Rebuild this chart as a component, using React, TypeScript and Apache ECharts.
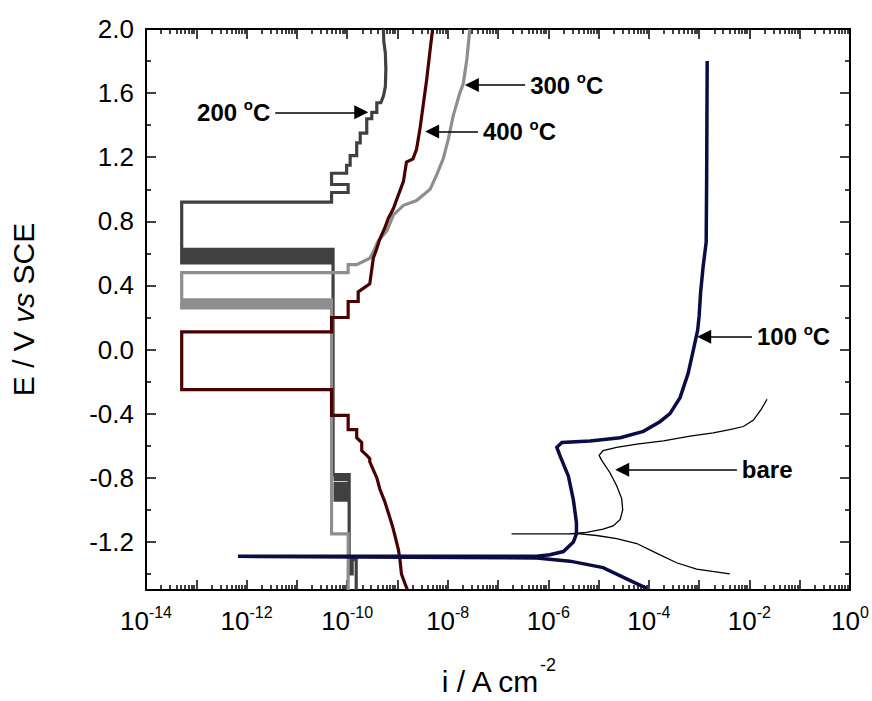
import React, { useEffect, useRef } from "react";
import * as echarts from "echarts";

// x values are log10(i / A cm^-2), y values are E / V vs SCE
const xDecades = [-14, -13, -12, -11, -10, -9, -8, -7, -6, -5, -4, -3, -2, -1, 0];
const xLabelDecades = [-14, -12, -10, -8, -6, -4, -2, 0];
const xMinorMantissas = [2, 3, 4, 5, 6, 7, 8, 9];
const yLabelValues = [-1.2, -0.8, -0.4, 0.0, 0.4, 0.8, 1.2, 1.6, 2.0];
const yMinorValues = [-1.4, -1.0, -0.6, -0.2, 0.2, 0.6, 1.0, 1.4, 1.8];

const bare: [number, number][] = [
  [-2.39, -1.40], [-3.05, -1.37], [-3.45, -1.33], [-3.85, -1.27], [-4.24, -1.21],
  [-4.64, -1.18], [-5.04, -1.16], [-5.37, -1.15], [-6.73, -1.15], [-5.60, -1.15],
  [-5.24, -1.14], [-4.91, -1.12], [-4.71, -1.10], [-4.57, -1.06], [-4.52, -1.00],
  [-4.54, -0.93], [-4.64, -0.85], [-4.77, -0.77], [-4.94, -0.69], [-4.99, -0.66],
  [-4.91, -0.63], [-4.64, -0.61], [-4.24, -0.59], [-3.71, -0.57], [-3.18, -0.54],
  [-2.72, -0.52], [-2.39, -0.50], [-2.12, -0.48], [-1.92, -0.44], [-1.76, -0.37],
  [-1.65, -0.31],
];

const c100: [number, number][] = [
  [-4.04, -1.49], [-4.38, -1.44], [-4.91, -1.36], [-5.57, -1.32], [-6.23, -1.30],
  [-12.17, -1.29], [-6.23, -1.29], [-5.97, -1.28], [-5.70, -1.26], [-5.50, -1.20],
  [-5.44, -1.15], [-5.44, -1.08], [-5.50, -0.94], [-5.60, -0.79], [-5.77, -0.66],
  [-5.83, -0.61], [-5.73, -0.58], [-5.17, -0.57], [-4.57, -0.55], [-4.11, -0.51],
  [-3.78, -0.45], [-3.58, -0.40], [-3.38, -0.30], [-3.22, -0.15], [-3.12, -0.01],
  [-3.03, 0.12], [-3.00, 0.21], [-2.97, 0.36], [-2.92, 0.52], [-2.86, 0.67],
  [-2.85, 1.09], [-2.84, 1.80],
];

const c200: [number, number][] = [
  [-9.82, -1.50], [-9.82, -1.31], [-9.90, -1.31], [-9.90, -1.40], [-9.96, -1.40],
  [-9.96, -0.94], [-10.24, -0.94], [-10.24, -0.925], [-9.96, -0.925], [-9.96, -0.91],
  [-10.24, -0.91], [-10.24, -0.895], [-9.96, -0.895], [-9.96, -0.88], [-10.24, -0.88],
  [-10.24, -0.865], [-9.96, -0.865], [-9.96, -0.85], [-10.24, -0.85], [-10.24, -0.835],
  [-9.96, -0.835], [-9.96, -0.81], [-10.24, -0.81], [-10.24, -0.795], [-9.96, -0.795],
  [-9.96, -0.78], [-10.28, -0.78], [-10.28, 0.54], [-13.29, 0.54], [-13.29, 0.555],
  [-10.28, 0.555], [-10.28, 0.57], [-13.29, 0.57], [-13.29, 0.585], [-10.28, 0.585],
  [-10.28, 0.60], [-13.29, 0.60], [-13.29, 0.615], [-10.28, 0.615], [-10.28, 0.625],
  [-13.29, 0.625], [-13.29, 0.92], [-10.31, 0.92],
  [-10.31, 0.98], [-9.98, 0.98], [-9.98, 1.03], [-10.31, 1.03], [-10.31, 1.10],
  [-10.01, 1.10], [-10.01, 1.15], [-9.94, 1.15], [-9.94, 1.21], [-9.81, 1.21],
  [-9.81, 1.29], [-9.74, 1.29], [-9.74, 1.35], [-9.61, 1.35], [-9.61, 1.44],
  [-9.51, 1.44], [-9.51, 1.48], [-9.41, 1.48], [-9.41, 1.54], [-9.33, 1.54],
  [-9.28, 1.58], [-9.24, 1.64], [-9.23, 1.75], [-9.24, 1.85], [-9.27, 1.92],
  [-9.28, 2.0],
];

const c300: [number, number][] = [
  [-9.98, -1.50], [-9.98, -1.15], [-10.31, -1.15], [-10.31, 0.26], [-13.29, 0.26],
  [-13.29, 0.275], [-10.31, 0.275], [-10.31, 0.29], [-13.29, 0.29], [-13.29, 0.305],
  [-10.31, 0.305], [-10.31, 0.31], [-13.29, 0.31], [-13.29, 0.48],
  [-9.98, 0.48], [-9.98, 0.53], [-9.81, 0.53], [-9.55, 0.57], [-9.48, 0.61],
  [-9.38, 0.68], [-9.21, 0.74], [-9.08, 0.84], [-8.88, 0.90], [-8.62, 0.93],
  [-8.35, 1.00], [-8.22, 1.09], [-8.09, 1.19], [-7.99, 1.31], [-7.89, 1.46],
  [-7.76, 1.60], [-7.69, 1.66], [-7.62, 1.81], [-7.56, 2.0],
];

const c400: [number, number][] = [
  [-8.80, -1.50], [-8.85, -1.46], [-8.92, -1.40], [-8.95, -1.31], [-8.98, -1.25],
  [-9.05, -1.16], [-9.10, -1.10], [-9.18, -1.02], [-9.25, -0.95], [-9.35, -0.87],
  [-9.41, -0.80], [-9.48, -0.75], [-9.55, -0.70], [-9.55, -0.68], [-9.61, -0.66],
  [-9.71, -0.63], [-9.71, -0.58], [-9.81, -0.55], [-9.81, -0.50], [-9.98, -0.50],
  [-9.98, -0.41], [-10.31, -0.41], [-10.31, -0.25], [-13.29, -0.25], [-13.29, 0.11],
  [-10.31, 0.11], [-10.31, 0.20], [-9.98, 0.20], [-9.98, 0.30], [-9.78, 0.30],
  [-9.78, 0.36], [-9.55, 0.41], [-9.48, 0.57], [-9.41, 0.63], [-9.35, 0.69],
  [-9.25, 0.76], [-9.18, 0.82], [-9.08, 0.88], [-9.01, 0.94], [-8.88, 1.05],
  [-8.82, 1.17], [-8.69, 1.19], [-8.62, 1.25], [-8.55, 1.38], [-8.49, 1.52],
  [-8.42, 1.68], [-8.35, 1.87], [-8.30, 2.0],
];

// annotation arrows: label, start and end in data coordinates
const annotations: { text: string; from: [number, number]; to: [number, number] }[] = [
  { text: "200", from: [-11.43, 1.48], to: [-9.72, 1.48] },
  { text: "300", from: [-6.46, 1.65], to: [-7.52, 1.65] },
  { text: "400", from: [-7.40, 1.36], to: [-8.31, 1.36] },
  { text: "100", from: [-1.95, 0.08], to: [-2.90, 0.08] },
  { text: "bare", from: [-2.25, -0.75], to: [-4.53, -0.75] },
];

const FONT = "'Liberation Sans', Arial, Helvetica, sans-serif";

const xMinorTicks: number[] = [];
xDecades.slice(0, -1).forEach((d) => {
  xMinorMantissas.forEach((m) => xMinorTicks.push(d + Math.log10(m)));
});

function arrowMarkLine(a: { text: string; from: [number, number]; to: [number, number] }) {
  const fmt = a.text === "bare" ? "{t|bare}" : `{t|${a.text} }{o|o}{t|C}`;
  return {
    silent: true,
    symbol: ["none", "triangle"],
    symbolSize: 14,
    lineStyle: { color: "#000", width: 1.5, type: "solid" },
    emphasis: { disabled: true },
    label: {
      show: true,
      position: "start",
      distance: 5,
      color: "#000",
      formatter: fmt,
      rich: {
        t: { fontSize: 24, fontWeight: "bold", fontFamily: FONT, color: "#000", lineHeight: 30 },
        o: { fontSize: 15, fontWeight: "bold", fontFamily: FONT, color: "#000", lineHeight: 15, verticalAlign: "top" },
      },
    },
    data: [[{ coord: a.from }, { coord: a.to }]],
  };
}

export default function App() {
  const ref = useRef<HTMLDivElement>(null);
  useEffect(() => {
    if (!ref.current) return;
    const chart = echarts.init(ref.current, undefined, { renderer: "svg" });
    const axisLine = { show: true, onZero: false, lineStyle: { color: "#000", width: 2 } };
    const noLine = { show: false, onZero: false };
    const baseX = { type: "value", min: -14, max: 0, splitLine: { show: false } };
    const baseY = { type: "value", min: -1.5, max: 2.0, splitLine: { show: false } };
    const tickStyle = { color: "#000", width: 1.5 };
    const byName = (n: string) => annotations.find((a) => a.text === n)!;

    const mkSeries = (name: string, data: [number, number][], color: string, width: number, ann: string) => ({
      name,
      type: "line",
      data,
      showSymbol: false,
      symbol: "none",
      lineStyle: { color, width, join: "miter" },
      itemStyle: { color },
      emphasis: { disabled: true },
      markLine: arrowMarkLine(byName(ann)),
    });

    chart.setOption({
      animation: false,
      backgroundColor: "#fff",
      grid: { left: 146, right: 22, top: 29, bottom: 107, containLabel: false },
      xAxis: [
        {
          ...baseX,
          position: "bottom",
          interval: 1,
          axisLine,
          axisTick: { show: true, inside: true, length: 10, lineStyle: tickStyle },
          axisLabel: {
            show: true,
            margin: 14,
            customValues: xLabelDecades,
            formatter: (v: number) => {
              const n = Math.round(v);
              if (n % 2 !== 0) return "";
              return `{b|10}{e|${n}}`;
            },
            rich: {
              b: { fontSize: 26, fontFamily: FONT, color: "#000", lineHeight: 34 },
              e: { fontSize: 16, fontFamily: FONT, color: "#000", lineHeight: 16, verticalAlign: "top" },
            },
          },
          name: "{n|i / A cm}{s|-2}",
          nameLocation: "middle",
          nameGap: 66,
          nameTextStyle: {
            rich: {
              n: { fontSize: 30, fontFamily: FONT, color: "#000", lineHeight: 50 },
              s: { fontSize: 18, fontFamily: FONT, color: "#000", lineHeight: 18, verticalAlign: "top" },
            },
          },
        },
        {
          ...baseX,
          position: "bottom",
          axisLine: noLine,
          axisLabel: { show: false },
          axisTick: { show: true, inside: true, length: 5, customValues: xMinorTicks, lineStyle: tickStyle },
        },
        {
          ...baseX,
          position: "top",
          interval: 1,
          axisLine,
          axisLabel: { show: false },
          axisTick: { show: true, inside: true, length: 10, lineStyle: tickStyle },
        },
        {
          ...baseX,
          position: "top",
          axisLine: noLine,
          axisLabel: { show: false },
          axisTick: { show: true, inside: true, length: 5, customValues: xMinorTicks, lineStyle: tickStyle },
        },
      ],
      yAxis: [
        {
          ...baseY,
          position: "left",
          axisLine,
          axisTick: { show: true, inside: true, length: 10, customValues: yLabelValues, lineStyle: tickStyle },
          axisLabel: {
            show: true,
            margin: 12,
            customValues: yLabelValues,
            fontSize: 26,
            fontFamily: FONT,
            color: "#000",
            formatter: (v: number) => v.toFixed(1),
          },
          name: "{n|E / V }{i|vs}{n| SCE}",
          nameLocation: "middle",
          nameRotate: 90,
          nameGap: 105,
          nameTextStyle: {
            rich: {
              n: { fontSize: 30, fontFamily: FONT, color: "#000", lineHeight: 36 },
              i: { fontSize: 30, fontFamily: FONT, color: "#000", lineHeight: 36, fontStyle: "italic" },
            },
          },
        },
        {
          ...baseY,
          position: "left",
          axisLine: noLine,
          axisLabel: { show: false },
          axisTick: { show: true, inside: true, length: 5, customValues: yMinorValues, lineStyle: tickStyle },
        },
        {
          ...baseY,
          position: "right",
          axisLine,
          axisLabel: { show: false },
          axisTick: { show: true, inside: true, length: 10, customValues: yLabelValues, lineStyle: tickStyle },
        },
        {
          ...baseY,
          position: "right",
          axisLine: noLine,
          axisLabel: { show: false },
          axisTick: { show: true, inside: true, length: 5, customValues: yMinorValues, lineStyle: tickStyle },
        },
      ],
      series: [
        mkSeries("200 °C", c200, "#404040", 3.2, "200"),
        mkSeries("300 °C", c300, "#8e8e8e", 3.2, "300"),
        mkSeries("400 °C", c400, "#4a0000", 3.2, "400"),
        mkSeries("bare", bare, "#000000", 1.3, "bare"),
        mkSeries("100 °C", c100, "#0b0b45", 3.5, "100"),
      ],
    });
    return () => chart.dispose();
  }, []);
  return (
    <div
      ref={ref}
      style={{ position: "fixed", left: 0, top: 0, width: 872, height: 701, background: "#fff" }}
    />
  );
}
